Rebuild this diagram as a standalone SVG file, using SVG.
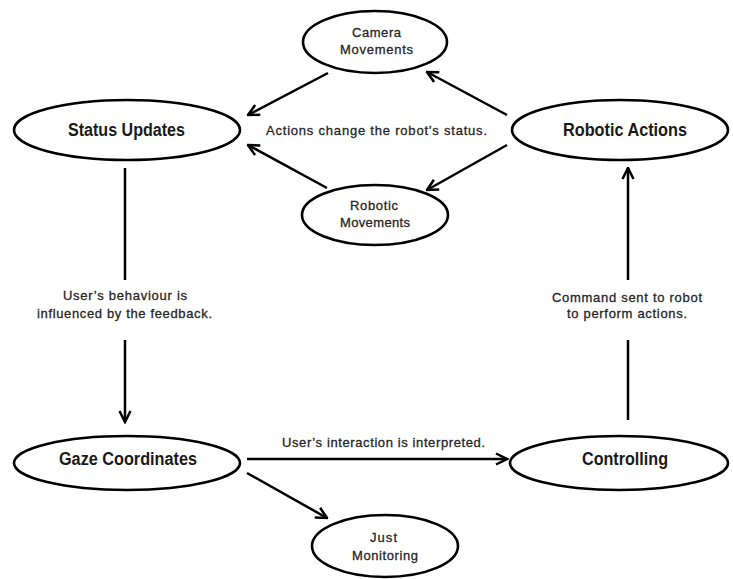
<svg xmlns="http://www.w3.org/2000/svg" width="733" height="579" viewBox="0 0 733 579">
  <style>
    .node ellipse { fill: #ffffff; stroke: #000000; stroke-width: 2.6; }
    .big { font-family: "Liberation Sans", Arial, sans-serif; font-size: 17.5px; font-weight: bold; fill: #1a1a1a; text-anchor: middle; }
    .small { font-family: "Liberation Sans", Arial, sans-serif; font-size: 13px; fill: #262626; stroke: #262626; stroke-width: 0.3; text-anchor: middle; }
    .edge { fill: none; stroke: #000000; stroke-width: 2.5; }
  </style>
  <defs>
    <marker id="arrow" viewBox="0 0 14 14" refX="12.5" refY="7" markerUnits="userSpaceOnUse" markerWidth="14" markerHeight="14" orient="auto">
      <path d="M1.5,1.5 L12.5,7 L1.5,12.5" fill="none" stroke="#000000" stroke-width="2.5" stroke-linejoin="miter"/>
    </marker>
  </defs>
  <rect width="733" height="579" fill="#ffffff"/>

  <g id="connectors">
    <path class="edge" d="M328,73 L248,115" marker-end="url(#arrow)"/>
    <path class="edge" d="M507,115 L427,72" marker-end="url(#arrow)"/>
    <path class="edge" d="M507,145 L427,190" marker-end="url(#arrow)"/>
    <path class="edge" d="M327,188 L248,145" marker-end="url(#arrow)"/>
    <path class="edge" d="M125,168 L125,280"/>
    <path class="edge" d="M125,340 L125,422" marker-end="url(#arrow)"/>
    <path class="edge" d="M628,420 L628,340"/>
    <path class="edge" d="M628,280 L628,168" marker-end="url(#arrow)"/>
    <path class="edge" d="M247,459 L507,459" marker-end="url(#arrow)"/>
    <path class="edge" d="M247,473 L327,518" marker-end="url(#arrow)"/>
    <text class="small" x="376.5" y="135" textLength="221" lengthAdjust="spacing">Actions change the robot’s status.</text>
    <text class="small" x="125" y="300" textLength="124" lengthAdjust="spacing">User’s behaviour is</text>
    <text class="small" x="124.5" y="318" textLength="175" lengthAdjust="spacing">influenced by the feedback.</text>
    <text class="small" x="627" y="302" textLength="150" lengthAdjust="spacing">Command sent to robot</text>
    <text class="small" x="627" y="318" textLength="120" lengthAdjust="spacing">to perform actions.</text>
    <text class="small" x="383.5" y="447" textLength="203" lengthAdjust="spacing">User’s interaction is interpreted.</text>
  </g>

  <g id="camera-movements" class="node">
    <ellipse cx="375" cy="42" rx="72" ry="31"/>
    <text class="small" x="376.5" y="37" textLength="49" lengthAdjust="spacing">Camera</text>
    <text class="small" x="376.5" y="54" textLength="73" lengthAdjust="spacing">Movements</text>
  </g>

  <g id="status-updates" class="node">
    <ellipse cx="127" cy="130" rx="113" ry="30"/>
    <text class="big" x="126.5" y="136" textLength="117" lengthAdjust="spacingAndGlyphs">Status Updates</text>
  </g>

  <g id="robotic-actions" class="node">
    <ellipse cx="620" cy="130" rx="108" ry="30"/>
    <text class="big" x="625" y="136" textLength="124" lengthAdjust="spacingAndGlyphs">Robotic Actions</text>
  </g>

  <g id="robotic-movements" class="node">
    <ellipse cx="375" cy="215" rx="73" ry="30"/>
    <text class="small" x="374" y="210" textLength="48" lengthAdjust="spacing">Robotic</text>
    <text class="small" x="375" y="227" textLength="70" lengthAdjust="spacing">Movements</text>
  </g>

  <g id="gaze-coordinates" class="node">
    <ellipse cx="127" cy="463" rx="113" ry="27"/>
    <text class="big" x="128" y="465" textLength="138" lengthAdjust="spacingAndGlyphs">Gaze Coordinates</text>
  </g>

  <g id="controlling" class="node">
    <ellipse cx="619" cy="463" rx="109" ry="27"/>
    <text class="big" x="625" y="465" textLength="86" lengthAdjust="spacingAndGlyphs">Controlling</text>
  </g>

  <g id="just-monitoring" class="node">
    <ellipse cx="385" cy="546" rx="73" ry="31"/>
    <text class="small" x="383.5" y="542" textLength="27" lengthAdjust="spacing">Just</text>
    <text class="small" x="385" y="560" textLength="66" lengthAdjust="spacing">Monitoring</text>
  </g>
</svg>
